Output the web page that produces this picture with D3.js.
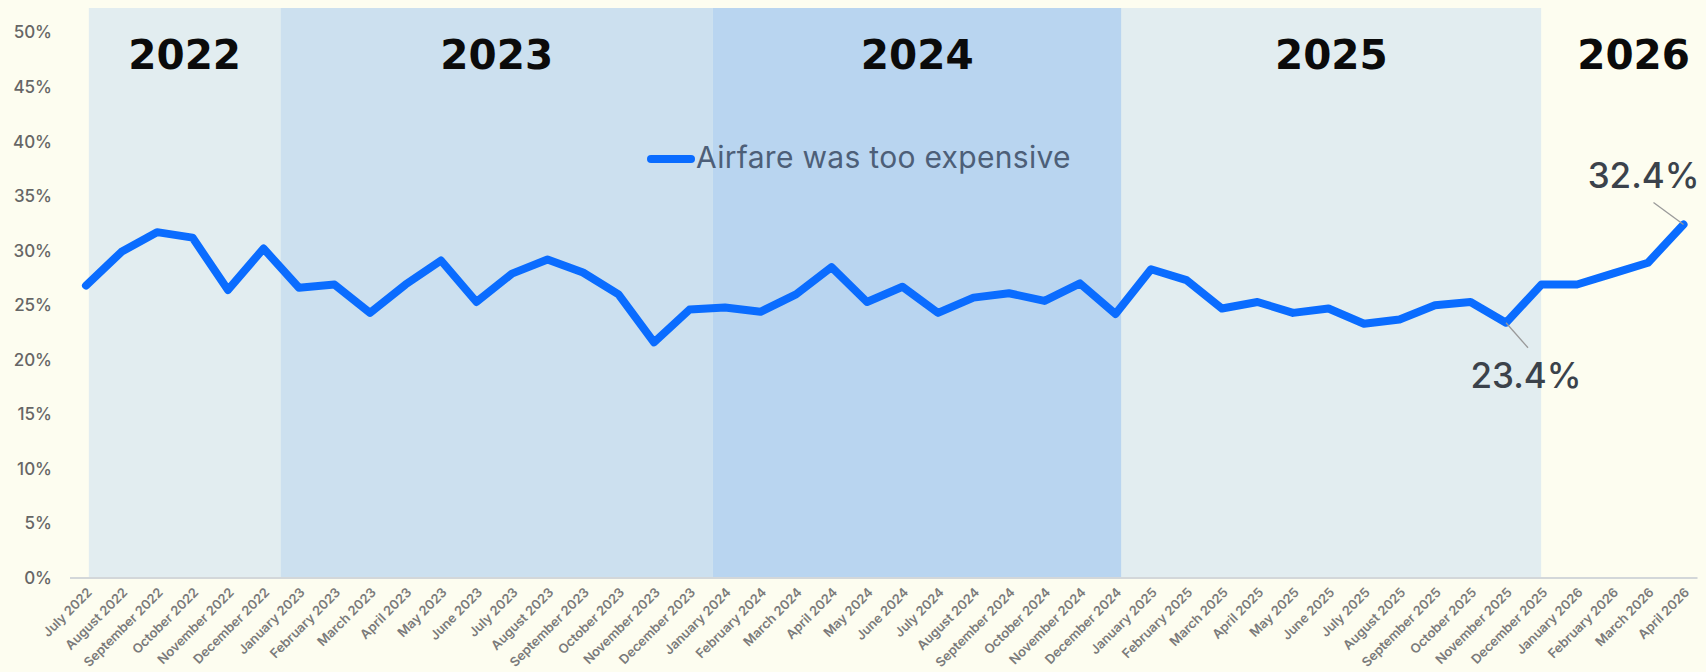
<!DOCTYPE html>
<html>
<head>
<meta charset="utf-8">
<script src="https://cdn.jsdelivr.net/npm/d3@7"></script>
<style>
  html, body { margin: 0; padding: 0; background: #fdfdf0; }
  svg { display: block; }
</style>
</head>
<body>
<svg id="chart" width="1706" height="672"></svg>
<script>
// Monthly share of respondents citing airfare as too expensive (%)
const months = [
  "July 2022", "August 2022", "September 2022", "October 2022", "November 2022", "December 2022",
  "January 2023", "February 2023", "March 2023", "April 2023", "May 2023", "June 2023",
  "July 2023", "August 2023", "September 2023", "October 2023", "November 2023", "December 2023",
  "January 2024", "February 2024", "March 2024", "April 2024", "May 2024", "June 2024",
  "July 2024", "August 2024", "September 2024", "October 2024", "November 2024", "December 2024",
  "January 2025", "February 2025", "March 2025", "April 2025", "May 2025", "June 2025",
  "July 2025", "August 2025", "September 2025", "October 2025", "November 2025", "December 2025",
  "January 2026", "February 2026", "March 2026", "April 2026"
];

const airfareTooExpensive = [
  26.8, 29.9, 31.7, 31.2, 26.4, 30.2,
  26.6, 26.9, 24.3, 26.9, 29.1, 25.3,
  27.9, 29.2, 28.0, 26.0, 21.6, 24.6,
  24.8, 24.4, 26.0, 28.5, 25.3, 26.7,
  24.3, 25.7, 26.1, 25.4, 27.0, 24.2,
  28.3, 27.3, 24.7, 25.3, 24.3, 24.7,
  23.3, 23.7, 25.0, 25.3, 23.4, 26.9,
  26.9, 27.9, 28.9, 32.4
];

const seriesName = "Airfare was too expensive";

// Year shading: label and span in month-index units
const years     = ["2022", "2023", "2024", "2025", "2026"];
const yearStart = [0.08, 5.48, 17.66, 29.17, 40.99];
const yearEnd   = [5.48, 17.66, 29.17, 40.99, 46.2];
const yearFill  = ["#e2edf0", "#cce0ef", "#b9d5f0", "#e2edf0", "none"];

const yTicks = [0, 5, 10, 15, 20, 25, 30, 35, 40, 45, 50];

// Highlighted values
const callouts = ["November 2025", "April 2026"];

const svg = d3.select("#chart");
const plotTop = 8, plotBottom = 578;

const x = d3.scalePoint().domain(months).range([86, 1683.5]);
const step = x.step();
const xi = i => x(months[0]) + i * step;   // fractional month index -> px
const y = d3.scaleLinear().domain([0, 50]).range([plotBottom, 32.5]);

const font = "Inter, 'Noto Sans', Arial, sans-serif";

// Year bands
const bands = svg.append("g");
years.forEach((yr, i) => {
  if (yearFill[i] !== "none") {
    bands.append("rect")
      .attr("x", xi(yearStart[i]))
      .attr("y", plotTop)
      .attr("width", xi(yearEnd[i]) - xi(yearStart[i]))
      .attr("height", plotBottom - plotTop)
      .attr("fill", yearFill[i]);
  }
  bands.append("text")
    .attr("x", (xi(yearStart[i]) + xi(yearEnd[i])) / 2)
    .attr("y", 69)
    .attr("text-anchor", "middle")
    .attr("font-family", "'DejaVu Sans', sans-serif")
    .attr("font-weight", "bold")
    .attr("font-size", 40.5)
    .attr("fill", "#0b0b0b")
    .text(yr);
});

// Baseline
svg.append("line")
  .attr("x1", x(months[0]) - 16)
  .attr("x2", x(months[months.length - 1]) + 14)
  .attr("y1", y(0)).attr("y2", y(0))
  .attr("stroke", "#d3d7d9")
  .attr("stroke-width", 2);

// Y axis
const yAxis = svg.append("g")
  .attr("transform", "translate(52,0)")
  .call(d3.axisLeft(y).tickValues(yTicks).tickSize(0).tickPadding(0).tickFormat(d => d + "%"));
yAxis.select(".domain").remove();
yAxis.selectAll("text")
  .attr("font-family", font)
  .attr("font-size", 17)
  .attr("font-weight", 500)
  .attr("fill", "#666666");

// X axis
const xAxis = svg.append("g")
  .attr("transform", `translate(0,${plotBottom})`)
  .call(d3.axisBottom(x).tickSize(0).tickPadding(0));
xAxis.select(".domain").remove();
xAxis.selectAll("text")
  .attr("font-family", font)
  .attr("font-size", 13)
  .attr("font-weight", 600)
  .attr("fill", "#7a7a7a")
  .attr("text-anchor", "end")
  .attr("dy", "0.35em")
  .attr("y", 0)
  .attr("transform", "translate(3,12) rotate(-45)");

// Series line
const line = d3.line()
  .x((d, i) => x(months[i]))
  .y(d => y(d));

svg.append("path")
  .datum(airfareTooExpensive)
  .attr("d", line)
  .attr("fill", "none")
  .attr("stroke", "#0a6cff")
  .attr("stroke-width", 8)
  .attr("stroke-linejoin", "round")
  .attr("stroke-linecap", "round");

// Legend
const legend = svg.append("g");
legend.append("line")
  .attr("x1", 651).attr("x2", 691)
  .attr("y1", 159).attr("y2", 159)
  .attr("stroke", "#0a6cff")
  .attr("stroke-width", 8)
  .attr("stroke-linecap", "round");
legend.append("text")
  .attr("x", 696).attr("y", 168)
  .attr("font-family", font)
  .attr("font-size", 30)
  .attr("letter-spacing", 0.3)
  .attr("fill", "#4d5f78")
  .text(seriesName);

// Callouts with leader lines
const calloutStyle = {
  "November 2025": { dx1: 22, dy1: 25, tx: 20, ty: 65, anchor: "middle" },
  "April 2026":    { dx1: -30, dy1: -22, tx: 16, ty: -37, anchor: "end" }
};
callouts.forEach(m => {
  const i = months.indexOf(m);
  const v = airfareTooExpensive[i];
  const px = x(m), py = y(v);
  const s = calloutStyle[m];
  svg.append("line")
    .attr("x1", px).attr("y1", py)
    .attr("x2", px + s.dx1).attr("y2", py + s.dy1)
    .attr("stroke", "#9a9a9a")
    .attr("stroke-width", 1.3);
  svg.append("text")
    .attr("x", px + s.tx).attr("y", py + s.ty)
    .attr("text-anchor", s.anchor)
    .attr("font-family", font)
    .attr("font-size", 35)
    .attr("font-weight", 500)
    .attr("fill", "#3b424b")
    .text(v.toFixed(1) + "%");
});
</script>
</body>
</html>
